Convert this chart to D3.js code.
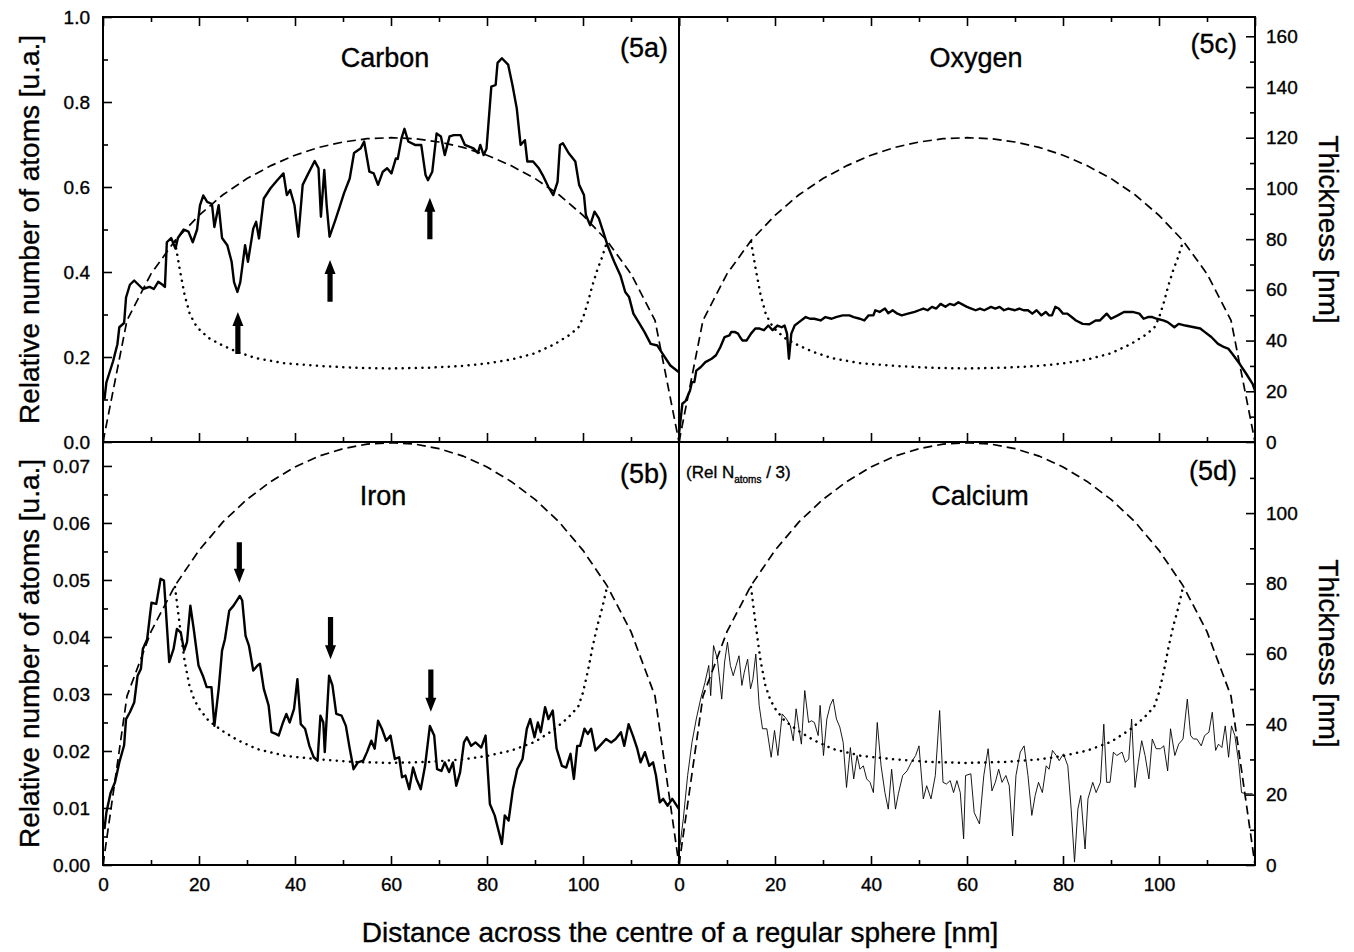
<!DOCTYPE html>
<html>
<head>
<meta charset="utf-8">
<script src="https://cdn.jsdelivr.net/npm/d3@7"></script>
<style>
  body { margin: 0; background: #fff; }
  svg { display: block; font-family: "Liberation Sans", Arial, sans-serif; }
  text { fill: #000; stroke: #000; stroke-width: 0.35; }
  .tick text { font-size: 19px; }
  .tick line { stroke: #000; stroke-width: 1.6; }
  .domain { display: none; }
</style>
</head>
<body>
<script>
// ---- data ----
// x positions (nm) across the sphere, thickness curves (nm, right axis)
var outerX = [0, 5, 10, 15, 20, 25, 30, 35, 40, 45, 50, 55, 60, 65, 70, 75, 80, 85, 90, 95, 100, 105, 110, 115, 120]
var outerThick = [0, 48, 66.3, 79.4, 89.4, 97.5, 103.9, 109, 113.1, 116.2, 118.3, 119.6, 120, 119.6, 118.3, 116.2, 113.1, 109, 103.9, 97.5, 89.4, 79.4, 66.3, 48, 0]
var innerX = [15, 16, 17, 18, 19, 20, 22, 25, 28, 32, 38, 45, 52, 60, 68, 75, 80, 85, 90, 94, 97, 99, 100, 101, 102, 103, 104, 105]
var innerThick = [79, 68, 58, 51, 47, 44.5, 41, 38, 35.5, 33, 31, 30, 29.3, 29, 29.3, 30, 31, 32.5, 35, 38.5, 42, 45, 49, 55, 62, 68, 73, 79]

// relative number of atoms [x, value]
var carbon = [[0.3,0.10],[0.7,0.14],[2.1,0.19],[3,0.23],[3.4,0.27],[4.4,0.28],[4.8,0.34],[5.6,0.37],[6.5,0.38],[7.4,0.37],[8.3,0.36],[9.7,0.365],[10.6,0.36],[11.5,0.377],[12.4,0.37],[12.9,0.365],[13.3,0.47],[14.2,0.48],[15.1,0.455],[15.6,0.48],[16.8,0.50],[17.8,0.495],[18.7,0.47],[19.6,0.50],[20.2,0.557],[20.9,0.58],[21.7,0.565],[22.7,0.56],[23.2,0.506],[24.1,0.557],[24.8,0.48],[25.9,0.463],[26.8,0.424],[27.3,0.376],[28,0.353],[28.6,0.376],[29.6,0.463],[30.2,0.424],[31.3,0.502],[31.9,0.518],[32.5,0.479],[33.5,0.573],[34.9,0.597],[36.3,0.616],[37.6,0.632],[38.3,0.581],[39,0.593],[39.9,0.557],[40.7,0.483],[41.6,0.605],[42.6,0.628],[44.1,0.661],[44.9,0.644],[45.4,0.53],[46.1,0.64],[46.6,0.557],[47.2,0.483],[48.4,0.522],[49.3,0.553],[50.2,0.585],[51.4,0.62],[52.3,0.68],[53.7,0.691],[54.4,0.707],[55.5,0.636],[56.4,0.632],[57.3,0.605],[58.3,0.636],[59.2,0.644],[60.1,0.632],[61,0.667],[61.4,0.666],[62.2,0.715],[62.8,0.737],[63.6,0.707],[65,0.699],[66.3,0.699],[67.2,0.628],[67.7,0.616],[68.6,0.636],[69.5,0.726],[70.4,0.719],[71.2,0.675],[72.2,0.719],[73.1,0.722],[74.5,0.722],[75.4,0.699],[77.2,0.691],[78.1,0.68],[78.6,0.699],[79.3,0.675],[79.9,0.69],[80.9,0.836],[81.8,0.84],[82.2,0.892],[83.1,0.903],[84.4,0.888],[85.3,0.84],[86.2,0.785],[87,0.699],[87.9,0.71],[88.4,0.66],[89.6,0.66],[90.8,0.644],[91.6,0.628],[92.8,0.60],[93.8,0.581],[94.7,0.612],[95.2,0.699],[95.8,0.703],[97,0.68],[98.4,0.66],[99.2,0.605],[100.2,0.581],[100.6,0.534],[101.5,0.51],[102.4,0.542],[103.3,0.526],[104.2,0.495],[105.1,0.463],[106.5,0.424],[107.8,0.392],[108.8,0.353],[109.6,0.341],[110.5,0.302],[111.8,0.278],[112.8,0.259],[114.1,0.231],[115.5,0.227],[116.8,0.204],[118.2,0.18],[120,0.164]]

var oxygen = [[0,0.019],[0.7,0.090],[1.4,0.097],[2.3,0.121],[2.7,0.141],[3.2,0.141],[3.6,0.168],[4.5,0.176],[5.5,0.188],[6.8,0.196],[7.7,0.204],[8.6,0.223],[9.5,0.247],[10.5,0.251],[10.9,0.259],[11.6,0.259],[12.3,0.255],[12.7,0.247],[13.2,0.239],[14.1,0.239],[15,0.255],[15.9,0.267],[16.8,0.267],[17.7,0.263],[18.6,0.274],[19.5,0.263],[20.5,0.274],[21.4,0.270],[22,0.274],[22.5,0.255],[22.9,0.196],[23.4,0.255],[24.1,0.274],[25,0.282],[26.4,0.294],[27.3,0.290],[28.2,0.290],[29.5,0.286],[30.5,0.294],[31.8,0.290],[32.7,0.294],[34.1,0.298],[35.5,0.298],[36.4,0.294],[37.7,0.290],[38.6,0.286],[39.5,0.298],[40.5,0.298],[40.9,0.310],[41.8,0.306],[42.9,0.314],[43.6,0.303],[44.5,0.310],[45.5,0.302],[46.4,0.298],[47.7,0.302],[49.1,0.306],[50,0.310],[50.9,0.314],[51.8,0.310],[52.7,0.318],[53.6,0.314],[54.5,0.325],[55.5,0.318],[56.4,0.325],[57.3,0.322],[58.2,0.329],[59.3,0.322],[60,0.318],[60.9,0.314],[61.8,0.310],[62.7,0.314],[63.6,0.310],[65,0.318],[65.9,0.314],[66.8,0.318],[67.7,0.310],[68.6,0.314],[70,0.310],[70.9,0.314],[71.8,0.310],[72.7,0.310],[73.6,0.302],[74.5,0.310],[75.5,0.298],[76.4,0.306],[77.1,0.298],[77.7,0.298],[78.4,0.318],[79.1,0.314],[80,0.302],[80.9,0.302],[81.8,0.294],[82.7,0.286],[84.1,0.278],[85.5,0.277],[86.8,0.286],[87.7,0.286],[89.1,0.302],[90,0.290],[91.4,0.298],[92.7,0.306],[94.5,0.306],[95.9,0.302],[96.8,0.290],[97.7,0.294],[98.6,0.294],[99.5,0.290],[100.9,0.286],[101.8,0.282],[103.2,0.270],[104.1,0.278],[105.5,0.274],[107.3,0.270],[108.6,0.267],[109.5,0.259],[110.9,0.247],[112.3,0.231],[113.6,0.223],[114.5,0.219],[115.5,0.204],[116.8,0.184],[118.2,0.160],[119.5,0.137],[120,0.121]]

var iron = [[0.3,0.0063],[0.7,0.0092],[1.6,0.0127],[2.5,0.0145],[3.4,0.018],[4.4,0.021],[4.8,0.0256],[5.6,0.0268],[6.5,0.0285],[7.2,0.0332],[7.9,0.0344],[8.3,0.0379],[9.2,0.0396],[10.1,0.046],[11.1,0.0458],[12,0.0502],[12.7,0.0499],[13.8,0.0356],[14.7,0.0379],[15.4,0.0414],[16.2,0.0408],[16.9,0.0376],[17.5,0.0391],[18.2,0.0455],[18.9,0.0414],[19.9,0.035],[20.8,0.0332],[21.6,0.0312],[22.6,0.0312],[23.2,0.0244],[24.1,0.0309],[24.8,0.0376],[25.4,0.0396],[26.3,0.0446],[27.2,0.0455],[28.5,0.0472],[29,0.0464],[29.7,0.0402],[30.4,0.0385],[31.3,0.0341],[32.2,0.035],[32.7,0.0353],[33.5,0.0309],[34.5,0.028],[35.1,0.0233],[36,0.023],[36.6,0.0227],[37.5,0.025],[38.2,0.0265],[38.9,0.025],[39.8,0.0274],[40.5,0.0326],[41.2,0.0247],[42.1,0.0239],[43,0.0209],[43.9,0.0189],[44.7,0.0183],[45.3,0.0262],[45.9,0.025],[46.2,0.0198],[47.1,0.0332],[47.8,0.0315],[48.6,0.0265],[49.7,0.0262],[50.6,0.0244],[51.3,0.0209],[52.2,0.0168],[53.1,0.018],[54.2,0.0183],[55,0.0198],[55.9,0.0218],[56.6,0.0204],[57.3,0.0253],[58.1,0.0239],[59,0.0218],[59.9,0.0227],[60.8,0.0186],[61.7,0.0189],[62.3,0.0154],[63,0.0157],[63.8,0.0133],[64.6,0.0171],[65.3,0.0151],[66.2,0.0133],[67.1,0.0174],[68.1,0.0244],[69,0.0227],[69.6,0.0168],[70.5,0.0165],[71.2,0.018],[72.1,0.0163],[72.9,0.018],[73.6,0.0139],[74.4,0.0163],[75.2,0.0215],[75.8,0.0224],[76.7,0.0209],[77.6,0.0215],[78.8,0.0206],[79.7,0.0227],[80.6,0.0107],[81.6,0.0087],[82.5,0.0057],[83.1,0.0037],[83.7,0.0087],[84.5,0.0078],[85.4,0.0133],[86.3,0.0168],[87.4,0.0186],[88.3,0.0239],[89,0.0256],[89.9,0.0224],[90.6,0.025],[91.2,0.0233],[92.1,0.0277],[92.8,0.0256],[93.7,0.0271],[94.5,0.0204],[95.6,0.0174],[96.5,0.0171],[97.4,0.0195],[98.1,0.0151],[98.8,0.0209],[99.4,0.0209],[100.3,0.0239],[101,0.023],[101.7,0.0239],[102.6,0.0201],[103.5,0.0209],[104.8,0.0221],[105.9,0.0215],[106.8,0.0221],[107.9,0.0233],[108.6,0.0209],[109.5,0.0247],[110.4,0.0227],[111.3,0.0204],[112,0.018],[112.9,0.0198],[113.8,0.0174],[114.6,0.018],[115.2,0.0157],[116,0.011],[116.7,0.0116],[117.6,0.0104],[118.6,0.0116],[120,0.0098]]

// calcium is plotted as Rel N_atoms / 3
var calcium = [[0.2,0.0034],[0.9,0.0081],[1.8,0.0157],[2.7,0.0215],[3.6,0.0256],[4.5,0.0291],[5.4,0.0320],[6.2,0.0350],[6.6,0.0297],[7.2,0.0385],[8,0.0361],[8.9,0.0291],[9.5,0.0356],[10.1,0.0391],[10.7,0.0350],[11.3,0.0332],[11.9,0.0350],[12.5,0.0367],[13.1,0.0315],[13.6,0.0338],[14.3,0.0361],[14.9,0.0309],[15.4,0.0326],[16,0.0370],[16.7,0.0280],[17.4,0.0239],[18.3,0.0239],[19.2,0.0189],[19.9,0.0236],[20.6,0.0192],[21.5,0.0265],[22.4,0.0256],[23.2,0.0244],[23.8,0.0218],[24.4,0.0274],[24.9,0.0244],[25.5,0.0212],[26.2,0.0306],[27,0.0250],[27.6,0.0253],[28.2,0.0250],[29,0.0227],[29.4,0.0280],[30.1,0.0192],[30.8,0.0256],[31.5,0.0280],[32.1,0.0291],[32.8,0.0256],[33.5,0.0242],[34.2,0.0215],[34.9,0.0136],[35.7,0.0206],[36.4,0.0151],[37.1,0.0192],[37.7,0.0168],[38.4,0.0174],[39.1,0.0151],[39.8,0.0145],[40.5,0.0127],[41.3,0.0250],[42.1,0.0174],[42.9,0.0127],[43.6,0.0098],[44.3,0.0168],[45.1,0.0098],[45.7,0.0125],[46.6,0.0157],[47.5,0.0165],[48.4,0.0180],[49.3,0.0192],[50,0.0209],[50.9,0.0116],[51.6,0.0139],[52.5,0.0116],[53.4,0.0157],[54.3,0.0271],[55,0.0145],[55.7,0.0142],[56.5,0.0148],[57.2,0.0127],[57.9,0.0148],[58.6,0.0127],[59.3,0.0046],[59.7,0.0157],[60.8,0.0160],[61.5,0.0092],[62.6,0.0072],[63.5,0.0157],[64.4,0.0204],[65.2,0.0130],[65.9,0.0145],[66.6,0.0168],[67.3,0.0145],[68.1,0.0157],[68.8,0.0139],[69.5,0.0051],[70.2,0.0157],[71.1,0.0198],[71.9,0.0209],[72.7,0.0157],[73.5,0.0087],[74.2,0.0122],[74.9,0.0145],[75.7,0.0127],[76.5,0.0174],[77.1,0.0168],[77.8,0.0201],[78.6,0.0192],[79.2,0.0183],[80.1,0.0195],[81,0.0174],[81.7,0.0098],[82.4,0.0005],[83.1,0.0098],[83.7,0.0122],[84.6,0.0028],[85.2,0.0116],[86.2,0.0145],[86.9,0.0127],[87.8,0.0145],[88.5,0.0247],[89.1,0.0145],[89.8,0.0145],[90.5,0.0198],[91.2,0.0192],[92.3,0.0198],[93,0.0180],[93.7,0.0186],[94.3,0.0256],[95,0.0136],[95.7,0.0180],[96.4,0.0218],[97.1,0.0192],[97.9,0.0151],[98.6,0.0221],[99.4,0.0204],[100.3,0.0204],[101,0.0209],[101.8,0.0165],[102.4,0.0239],[103.3,0.0192],[104.1,0.0212],[105,0.0221],[105.9,0.0291],[106.6,0.0227],[107.2,0.0221],[107.9,0.0221],[108.8,0.0209],[109.5,0.0227],[110.4,0.0233],[111.1,0.0268],[111.8,0.0201],[112.4,0.0212],[113.1,0.0206],[113.8,0.0244],[114.5,0.0189],[115.1,0.0244],[115.8,0.0227],[116.6,0.0180],[117.2,0.0127],[118.1,0.0125],[118.8,0.0125],[119.5,0.0125]]

// arrows: [x, tail value, tip value]
var carbonArrows = [[28.1, 0.207, 0.306], [47.3, 0.33, 0.428], [68.1, 0.477, 0.575]]
var ironArrows = [[28.4, 0.0566, 0.0495], [47.4, 0.0435, 0.0361], [68.3, 0.0343, 0.0269]]

var xTickLabels = [0, 20, 40, 60, 80, 100]
var relTicksTop = [0, 0.2, 0.4, 0.6, 0.8, 1.0]
var relTicksBottom = [0, 0.01, 0.02, 0.03, 0.04, 0.05, 0.06, 0.07]
var thickTicksTop = [0, 20, 40, 60, 80, 100, 120, 140, 160]
var thickTicksBottom = [0, 20, 40, 60, 80, 100]

// ---- layout ----
var W = 1354, H = 952
var L = 103, M = 679, R = 1255
var T = 17, D = 442, B = 865

var svg = d3.select('body').append('svg').attr('width', W).attr('height', H)

var xLeft = d3.scaleLinear().domain([0, 120]).range([L, M])
var xRight = d3.scaleLinear().domain([0, 120]).range([M, R])
var yRelTop = d3.scaleLinear().domain([0, 1]).range([D, T])
var yThkTop = d3.scaleLinear().domain([0, 167.6]).range([D, T])
var yRelBot = d3.scaleLinear().domain([0, 0.0742]).range([B, D])
var yThkBot = d3.scaleLinear().domain([0, 120.2]).range([B, D])

var outer = outerX.map((x, i) => [x, outerThick[i]])
var inner = innerX.map((x, i) => [x, innerThick[i]])

var panels = [
  {x: xLeft, yRel: yRelTop, yThk: yThkTop, data: carbon, width: 2.4, arrows: carbonArrows},
  {x: xRight, yRel: yRelTop, yThk: yThkTop, data: oxygen, width: 2.4},
  {x: xLeft, yRel: yRelBot, yThk: yThkBot, data: iron, width: 2.4, arrows: ironArrows},
  {x: xRight, yRel: yRelBot, yThk: yThkBot, data: calcium, width: 0.9}
]

var minor = (a, b, s) => d3.range(a, b + s / 2, s)

// ---- axes (all ticks point inward) ----
function axis(gen, scale, at, values, size, fmt, pad) {
  var a = gen(scale).tickValues(values).tickSize(-size).tickSizeOuter(0).tickPadding(pad || 10)
  a.tickFormat(fmt ? d3.format(fmt) : '')
  return svg.append('g').attr('transform', at).call(a)
}

;[xLeft, xRight].forEach(function(x) {
  // top edge, divider, bottom edge
  axis(d3.axisTop, x, `translate(0,${T})`, xTickLabels.concat([120]), 9)
  axis(d3.axisTop, x, `translate(0,${T})`, minor(10, 110, 20), 5)
  axis(d3.axisBottom, x, `translate(0,${D})`, xTickLabels, 9)
  axis(d3.axisBottom, x, `translate(0,${D})`, minor(10, 110, 20), 5)
  axis(d3.axisBottom, x, `translate(0,${B})`, xTickLabels, 9, 'd', 13)
  axis(d3.axisBottom, x, `translate(0,${B})`, minor(10, 110, 20), 5)
})

axis(d3.axisLeft, yRelTop, `translate(${L},0)`, relTicksTop, 9, '.1f', 13)
axis(d3.axisLeft, yRelTop, `translate(${L},0)`, minor(0.1, 0.9, 0.2), 5)
axis(d3.axisLeft, yRelBot, `translate(${L},0)`, relTicksBottom, 9, '.2f', 13)
axis(d3.axisLeft, yRelBot, `translate(${L},0)`, minor(0.005, 0.065, 0.01), 5)

axis(d3.axisRight, yThkTop, `translate(${R},0)`, thickTicksTop, 9, 'd', 11)
axis(d3.axisRight, yThkTop, `translate(${R},0)`, minor(10, 150, 20), 5)
axis(d3.axisRight, yThkBot, `translate(${R},0)`, thickTicksBottom, 9, 'd', 11)
axis(d3.axisRight, yThkBot, `translate(${R},0)`, minor(10, 110, 20), 5)

// frame
var frame = svg.append('g').attr('stroke', '#000').attr('stroke-width', 2).attr('fill', 'none')
frame.append('rect').attr('x', L).attr('y', T).attr('width', R - L).attr('height', B - T)
frame.append('line').attr('x1', L).attr('x2', R).attr('y1', D).attr('y2', D)
frame.append('line').attr('x1', M).attr('x2', M).attr('y1', T).attr('y2', B)

// ---- curves ----
panels.forEach(function(p) {
  var thk = d3.line().x(d => p.x(d[0])).y(d => p.yThk(d[1]))
  var rel = d3.line().x(d => p.x(d[0])).y(d => p.yRel(d[1]))

  svg.append('path').attr('d', thk(outer))
    .attr('fill', 'none').attr('stroke', '#000').attr('stroke-width', 1.7)
    .attr('stroke-dasharray', '9,5')

  svg.append('path').attr('d', thk(inner))
    .attr('fill', 'none').attr('stroke', '#000').attr('stroke-width', 2.5)
    .attr('stroke-linecap', 'round').attr('stroke-dasharray', '0.1,6.5')

  svg.append('path').attr('d', rel(p.data))
    .attr('fill', 'none').attr('stroke', '#000').attr('stroke-width', p.width)
    .attr('stroke-linejoin', 'round')

  if (p.arrows) {
    svg.selectAll(null).data(p.arrows).enter().append('path')
      .attr('fill', '#000')
      .attr('d', function(a) {
        var x = p.x(a[0]), y0 = p.yRel(a[1]), y1 = p.yRel(a[2])
        var dir = y1 < y0 ? 1 : -1
        var hb = y1 + dir * 14
        return `M${x - 2.6},${y0}L${x - 2.6},${hb}L${x - 5.5},${hb}L${x},${y1}` +
          `L${x + 5.5},${hb}L${x + 2.6},${hb}L${x + 2.6},${y0}Z`
      })
  }
})

// ---- labels ----
function label(txt, x, y, size, anchor) {
  return svg.append('text').attr('x', x).attr('y', y).attr('font-size', size)
    .attr('text-anchor', anchor || 'middle').text(txt)
}
label('Carbon', 385, 67, 27)
label('(5a)', 668, 57, 27, 'end')
label('Oxygen', 976, 67, 27)
label('(5c)', 1237, 53, 27, 'end')
label('Iron', 383, 505, 27)
label('(5b)', 668, 483, 27, 'end')
label('Calcium', 980, 505, 27)
label('(5d)', 1237, 480, 27, 'end')

var rel = label('(Rel N', 686, 478, 17, 'start')
rel.append('tspan').attr('font-size', 10).attr('dy', 5).text('atoms')
rel.append('tspan').attr('dy', -5).text(' / 3)')

;[(T + D) / 2, (D + B) / 2].forEach(function(cy) {
  svg.append('text').attr('font-size', 28).attr('text-anchor', 'middle')
    .attr('transform', `translate(39,${cy}) rotate(-90)`)
    .text('Relative number of atoms [u.a.]')
  svg.append('text').attr('font-size', 28).attr('text-anchor', 'middle')
    .attr('transform', `translate(1319,${cy}) rotate(90)`)
    .text('Thickness [nm]')
})

label('Distance across the centre of a regular sphere [nm]', 680, 942, 28)
</script>
</body>
</html>
